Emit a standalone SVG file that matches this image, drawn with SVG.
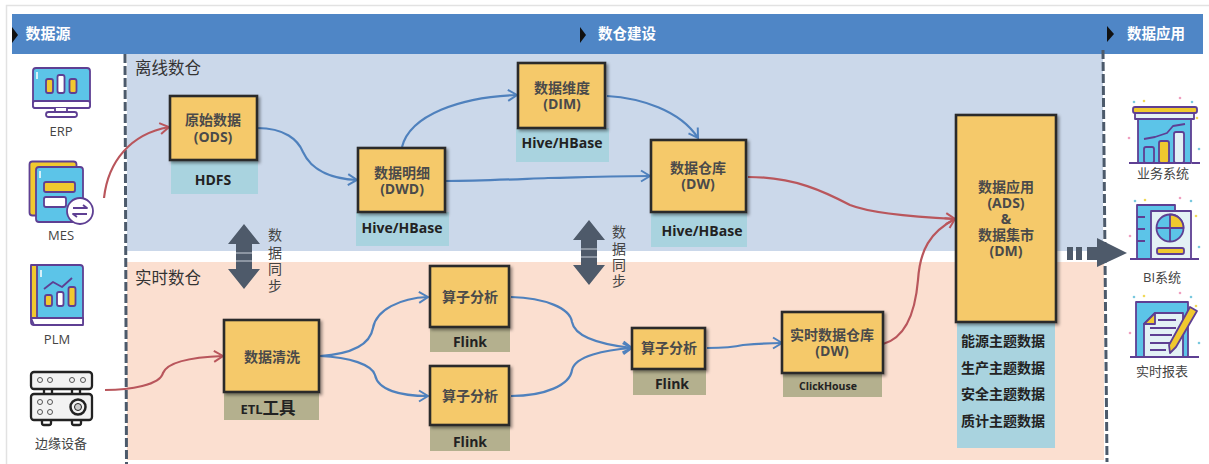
<svg xmlns="http://www.w3.org/2000/svg" width="1209" height="464" viewBox="0 0 1209 464">
<defs>
<filter id="sh" x="-10%" y="-10%" width="125%" height="125%"><feDropShadow dx="2" dy="2" stdDeviation="1.6" flood-color="#000" flood-opacity="0.4"/></filter>
<marker id="ab" markerUnits="userSpaceOnUse" markerWidth="14" markerHeight="14" refX="11" refY="7" orient="auto"><path d="M2 1.500 L11 7 L2 12.500" fill="none" stroke="#4f81bd" stroke-width="2"/></marker>
<marker id="ar" markerUnits="userSpaceOnUse" markerWidth="14" markerHeight="14" refX="11" refY="7" orient="auto"><path d="M2 1.500 L11 7 L2 12.500" fill="none" stroke="#b9565c" stroke-width="2"/></marker>
</defs>
<style>
text{font-family:"Open Sans","Noto Sans CJK SC",sans-serif;text-anchor:middle}
.box{fill:#f5c96b;stroke:#2b2b2b;stroke-width:2.6;filter:url(#sh)}
.bt{font-size:14px;font-weight:700;fill:#4a4a4a}
.lab{font-size:14px;font-weight:700;fill:#222}
.tag{fill:#a9d3df}.tag2{fill:#b4b08e}
.hd{font-size:14.500px;font-weight:700;fill:#fff}
.zone{font-size:16.500px;fill:#333;text-anchor:start}
.side{font-size:13px;fill:#444}
.vt{font-size:14px;fill:#444}
.cb{fill:none;stroke:#4f81bd;stroke-width:2.2;marker-end:url(#ab)}
.cr{fill:none;stroke:#b9565c;stroke-width:2.2;marker-end:url(#ar)}
.dash{fill:none;stroke:#4c5a6b;stroke-width:3;stroke-dasharray:9 3}
.ic{stroke:#5e3f93;stroke-width:1.800;stroke-linejoin:round}
.sync{fill:#4e5a6a}
.sl{stroke:#c9d0da;stroke-width:1;fill:none}
.bl{fill:#5cc4e8}.ye{fill:#f0c92e}.wh{fill:#fff}.pa{fill:#e3f1f5}
</style>
<rect width="1209" height="464" fill="#fff"/>
<path d="M6.500 464V5.500H1209" fill="none" stroke="#e2e2e2" stroke-width="1.500"/>
<rect x="12" y="14" width="1191" height="40" fill="#4f86c6"/>
<rect x="127" y="54" width="976" height="197" fill="#cbd8ea"/>
<rect x="127" y="262" width="977" height="198" fill="#fbdfd0"/>
<g id="header">
<path d="M12 27l6 8-6 8z" fill="#111"/><text class="hd" style="font-size:15px" x="48" y="39">数据源</text>
<path d="M580 27l6 8-6 8z" fill="#111"/><text class="hd" x="627" y="39">数仓建设</text>
<path d="M1107 26l7 8-7 8z" fill="#111"/><text class="hd" x="1156" y="39">数据应用</text>
</g>
<text class="zone" x="135" y="74">离线数仓</text>
<text class="zone" x="135" y="284">实时数仓</text>
<path class="dash" d="M125 54L126.500 464M1103 50L1107 462"/>
<g id="src-erp"><rect class="ic bl" x="33" y="68" width="57" height="40" rx="3"/><rect class="ic wh" x="33" y="101" width="57" height="7" rx="2"/><rect class="ic ye" x="46" y="79" width="7" height="14" rx="2"/><rect class="ic wh" x="57.500" y="75" width="7" height="18" rx="2"/><rect class="ic ye" x="69.500" y="79" width="7" height="14" rx="2"/><path class="ic wh" d="M55 108v4h12v-4"/><rect class="ic wh" x="46" y="112" width="31" height="5" rx="2.500"/><path d="M37 72v7" stroke="#fff" stroke-width="1.500"/><text class="side" x="61" y="136">ERP</text></g>
<g id="src-mes"><rect class="ic ye" x="29.500" y="161.500" width="47" height="54" rx="3"/><rect class="ic bl" x="36" y="167" width="47" height="55" rx="3"/><rect class="ic ye" x="44" y="182" width="31" height="10" rx="2"/><rect class="ic wh" x="44" y="197" width="22" height="10" rx="2"/><circle class="ic wh" cx="80" cy="211" r="13"/><path class="ic" d="M73 208h14l-4-3M87 214H73l4 3" fill="none"/><path d="M40 171v7" stroke="#fff" stroke-width="1.500"/><text class="side" x="61" y="240">MES</text></g>
<g id="src-plm"><rect class="ic bl" x="31" y="265" width="52" height="60" rx="3"/><rect class="ic ye" x="31" y="265" width="6" height="53"/><path class="ic wh" d="M31 318h52v7H34z"/><path class="ic" d="M44 289l9-7 9 5 10-9" fill="none"/><rect class="ic ye" x="45" y="295" width="7" height="11" rx="2"/><rect class="ic wh" x="57" y="292" width="6.500" height="14" rx="2"/><rect class="ic ye" x="68.500" y="287" width="7" height="19" rx="2"/><path d="M41 270v7" stroke="#fff" stroke-width="1.500"/><text class="side" x="57" y="344">PLM</text></g>
<g id="src-edge" fill="#f2f2f2" stroke="#222" stroke-width="2.300"><rect x="31" y="372" width="61" height="17" rx="3"/><rect x="31" y="394" width="61" height="26" rx="3"/><path d="M44 389v5M52 389v5M72 389v5M80 389v5M42 420v3a2 2 0 0 0 2 2h5a2 2 0 0 0 2-2v-3M72 420v3a2 2 0 0 0 2 2h5a2 2 0 0 0 2-2v-3" fill="none"/><g stroke-width="1" stroke="#555"><circle cx="40" cy="380" r="2.500"/><circle cx="50" cy="380" r="2.500"/><circle cx="72" cy="380" r="2.500"/><circle cx="83" cy="380" r="2.500"/><circle cx="40" cy="402" r="2.500"/><circle cx="50" cy="402" r="2.500"/><circle cx="40" cy="412" r="2.500"/><circle cx="50" cy="412" r="2.500"/></g><circle cx="78" cy="407" r="7.500" stroke-width="2.500"/><circle cx="78" cy="407" r="3.500" stroke-width="1" fill="#ccc"/><text class="side" x="61" y="448" stroke="none" fill="#444">边缘设备</text></g>
<g id="app-biz"><path class="ic bl" d="M1138 119h53v44h-53z"/><rect class="ic ye" x="1133" y="107" width="64" height="6" rx="2"/><rect class="ic pa" x="1135" y="113" width="59" height="6"/><rect class="ic bl" x="1144" y="147" width="10" height="16" rx="2"/><rect class="ic ye" x="1159" y="141" width="10" height="22" rx="2"/><rect class="ic pa" x="1174" y="132" width="10" height="31" rx="2"/><path class="ic" d="M1144 139l11-2 12-4 6-7 12-2" fill="none"/><path class="ic" d="M1129 163h71" stroke-dasharray="60 3"/><g fill="#79c8de"><circle cx="1134" cy="102" r="1.300"/><circle cx="1192" cy="102" r="1.300"/><circle cx="1199" cy="149" r="1.300"/></g><g fill="#f0d95a"><circle cx="1144" cy="101" r="1.300"/><circle cx="1197" cy="118" r="1.300"/></g><g fill="#ef9fc0"><circle cx="1180" cy="98" r="1.300"/><circle cx="1129" cy="138" r="1.300"/></g><text class="side" x="1163" y="178">业务系统</text></g>
<g id="app-bi"><rect class="ic bl" x="1137" y="205" width="38" height="54"/><path class="ic" d="M1137 217h8M1137 229h8M1137 241h8" fill="none"/><rect class="ic pa" x="1151" y="211" width="40" height="48"/><circle class="ic bl" cx="1170" cy="228" r="13.500"/><path class="ic ye" d="M1170 214.500a13.500 13.500 0 0 1 13.500 13.500h-13.500z"/><path class="ic" d="M1156.500 228h13.500v13.500" fill="none"/><rect class="ic ye" x="1157" y="248" width="27" height="6" rx="2"/><path class="ic" d="M1130 259h69" fill="none"/><g fill="#79c8de"><circle cx="1135" cy="201" r="1.300"/><circle cx="1191" cy="201" r="1.300"/><circle cx="1199" cy="247" r="1.300"/></g><g fill="#f0d95a"><circle cx="1145" cy="200" r="1.300"/><circle cx="1196" cy="216" r="1.300"/></g><g fill="#ef9fc0"><circle cx="1180" cy="198" r="1.300"/><circle cx="1130" cy="236" r="1.300"/></g><text class="side" x="1162" y="282">BI系统</text></g>
<g id="app-rep"><rect class="ic bl" x="1136" y="302" width="52" height="55"/><path class="ic pa" d="M1155 313h28v44h-39v-33z"/><path class="ic ye" d="M1155 313v11h-11z"/><path class="ic" d="M1158 320h18M1150 328h26M1150 335h22M1150 343h20M1150 350h16" fill="none"/><path class="ic ye" d="M1190 307l7 4-21 36-6 6-1-8z"/><path class="ic" d="M1130 357h69" fill="none"/><g fill="#79c8de"><circle cx="1134" cy="297" r="1.300"/><circle cx="1191" cy="297" r="1.300"/><circle cx="1199" cy="343" r="1.300"/></g><circle cx="1144" cy="296" r="1.300" fill="#f0d95a"/><circle cx="1196" cy="306" r="1.300" fill="#f0d95a"/><g fill="#ef9fc0"><circle cx="1180" cy="293" r="1.300"/><circle cx="1130" cy="333" r="1.300"/></g><text class="side" x="1162" y="376">实时报表</text></g>
<rect class="tag" x="171" y="160" width="87" height="34"/>
<rect class="tag" x="356" y="212" width="93" height="34"/>
<rect class="tag" x="516" y="128" width="93" height="34"/>
<rect class="tag" x="651" y="212" width="96" height="35"/>
<rect class="tag2" x="224" y="392" width="95" height="28"/>
<rect class="tag2" x="430" y="327" width="80" height="25"/>
<rect class="tag2" x="430" y="425" width="80" height="26"/>
<rect class="tag2" x="633" y="369" width="73" height="26"/>
<rect class="tag2" x="783" y="373" width="99" height="24"/>
<rect class="tag" x="957" y="322" width="98" height="126"/>
<g id="conn">
<path class="cr" d="M104 198C108 162 130 134 169 127"/>
<path class="cr" d="M105 390C130 390 160 385 163 373C168 361 195 357 223 356"/>
<path class="cb" d="M257 128C285 128 298 140 303 152C312 172 335 179 357 180"/>
<path class="cb" d="M402 147C410 115 460 97 517 95"/>
<path class="cb" d="M607 96C640 98 680 110 698 138"/>
<path class="cb" d="M446 181C480 181 520 179 548 178C590 177 620 176 650 176"/>
<path class="cr" d="M748 177C795 177 825 192 850 205C870 213 915 217 955 219"/>
<path class="cr" d="M883 344C905 338 915 315 918 280C920 250 930 232 955 219"/>
<path class="cb" d="M320 356C350 354 370 345 373 328C376 310 400 298 428 297"/>
<path class="cb" d="M320 356C350 357 372 365 375 375C378 390 400 396 428 396"/>
<path class="cb" d="M511 297C545 298 570 308 572 322C575 338 605 345 632 348"/>
<path class="cb" d="M511 396C545 396 570 385 572 370C575 356 605 350 632 348"/>
<path class="cb" d="M707 348C725 348 735 347 743 345C755 344 770 343 782 343"/>
</g>
<g id="n-ods"><rect class="box" x="170" y="96" width="87" height="64"/><text class="bt" y="125"><tspan x="213">原始数据</tspan><tspan x="213" dy="16.500">(ODS)</tspan></text><text class="lab" x="213" y="185">HDFS</text></g>
<g id="n-dwd"><rect class="box" x="358" y="148" width="87" height="64"/><text class="bt" y="178"><tspan x="402">数据明细</tspan><tspan x="402" dy="16">(DWD)</tspan></text><text class="lab" x="402" y="233">Hive/HBase</text></g>
<g id="n-dim"><rect class="box" x="518" y="63" width="87" height="65"/><text class="bt" y="93"><tspan x="562">数据维度</tspan><tspan x="562" dy="16">(DIM)</tspan></text><text class="lab" x="562" y="148">Hive/HBase</text></g>
<g id="n-dw"><rect class="box" x="651" y="140" width="95" height="72"/><text class="bt" y="173"><tspan x="698">数据仓库</tspan><tspan x="698" dy="16">(DW)</tspan></text><text class="lab" x="702" y="236">Hive/HBase</text></g>
<g id="n-clean"><rect class="box" x="224" y="320" width="95" height="72"/><text class="bt" x="272" y="362">数据清洗</text><text class="lab" x="268" y="414" style="font-size:13px">ETL<tspan style="font-size:16.500px">工具</tspan></text></g>
<g id="n-calc1"><rect class="box" x="430" y="266" width="79" height="61"/><text class="bt" x="470" y="302">算子分析</text><text class="lab" x="470" y="347">Flink</text></g>
<g id="n-calc2"><rect class="box" x="430" y="366" width="79" height="59"/><text class="bt" x="470" y="401">算子分析</text><text class="lab" x="470" y="447">Flink</text></g>
<g id="n-calc3"><rect class="box" x="632" y="328" width="73" height="41"/><text class="bt" x="669" y="353">算子分析</text><text class="lab" x="672" y="389">Flink</text></g>
<g id="n-rt"><rect class="box" x="782" y="312" width="101" height="61"/><text class="bt" y="340"><tspan x="832">实时数据仓库</tspan><tspan x="832" dy="16">(DW)</tspan></text><text x="828" y="390" style="font-size:10.500px;font-weight:700;fill:#222">ClickHouse</text></g>
<g id="n-ads"><rect class="box" x="956" y="115" width="100" height="207"/><text class="bt" y="192"><tspan x="1006">数据应用</tspan><tspan x="1006" dy="16">(ADS)</tspan><tspan x="1006" dy="16">&amp;</tspan><tspan x="1006" dy="16">数据集市</tspan><tspan x="1006" dy="16">(DM)</tspan></text><text class="lab" y="346"><tspan x="1003">能源主题数据</tspan><tspan x="1003" dy="26.500">生产主题数据</tspan><tspan x="1003" dy="26.500">安全主题数据</tspan><tspan x="1003" dy="26.500">质计主题数据</tspan></text></g>
<g id="sync">
<path class="sync" d="M244 224l16 20h-8v25h8l-16 20-16-20h8v-25h-8z"/><path class="sl" d="M236 253h16M236 261h16"/>
<text class="vt" y="240"><tspan x="275">数</tspan><tspan x="275" dy="17.500">据</tspan><tspan x="275" dy="16.500">同</tspan><tspan x="275" dy="16.500">步</tspan></text>
<path class="sync" d="M589 220l16 20h-8v25h8l-16 20-16-20h8v-25h-8z"/><path class="sl" d="M581 249h16M581 257h16"/>
<text class="vt" y="237"><tspan x="619">数</tspan><tspan x="619" dy="17">据</tspan><tspan x="619" dy="16">同</tspan><tspan x="619" dy="16">步</tspan></text>
<path class="sync" d="M1067 247h6v13h-6zM1076 247h6v13h-6zM1087 247h10v-9l30 15-30 14v-7h-10z"/>
</g>
</svg>
